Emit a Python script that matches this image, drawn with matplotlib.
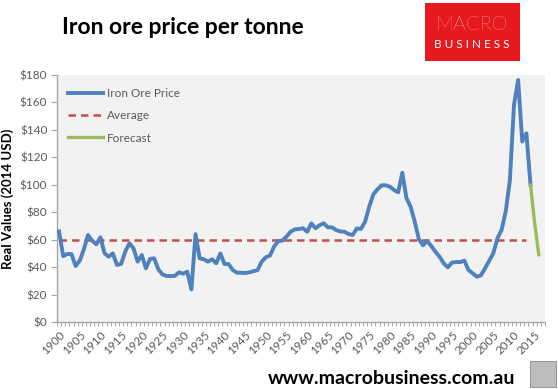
import matplotlib
matplotlib.use("Agg")
import matplotlib.pyplot as plt
from matplotlib.patches import Rectangle
import numpy as np

# ---------------------------------------------------------------------------
# Data (real USD 2014 per tonne)
# ---------------------------------------------------------------------------
price_years = list(range(1900, 2015))
price = [
    66, 48, 49.6, 49.5, 40.8, 44.7, 53, 63.4, 59.3, 56.6,          # 1900s
    61.7, 50, 47.6, 50, 41.6, 42.3, 51.3, 57.3, 53.7, 44,          # 1910s
    48.8, 39.1, 46, 46.4, 38.4, 34.7, 33.5, 33.5, 33.6, 36.2,      # 1920s
    35.2, 36.7, 23.8, 64, 46.4, 45.7, 44, 45.7, 42.8, 50,          # 1930s
    42.2, 42.2, 37.9, 35.9, 35.9, 35.7, 36.2, 37, 37.8, 44,        # 1940s
    47.2, 48.4, 55, 59, 59.3, 62.2, 65.8, 67.5, 67.8, 68.3,        # 1950s
    65.8, 71.9, 68.3, 70.5, 71.9, 69, 69, 67, 66, 65.8,            # 1960s
    64.1, 63.4, 68.2, 67.8, 73.1, 84.1, 93, 96.7, 99.6, 99.6,      # 1970s
    98.6, 96.2, 94.5, 108.8, 90.2, 84.1, 73.1, 60.3, 55.9, 59,     # 1980s
    55.4, 51.2, 47.6, 42.8, 39.8, 43.3, 43.7, 43.7, 44.7, 37.9,    # 1990s
    35.5, 33, 34, 39.1, 44.5, 50.1, 61, 67.1, 80.5, 103,           # 2000s
    158.2, 176.4, 131.5, 137.5, 99.8,                              # 2010-2014
]

forecast_years = [2014, 2015, 2016]
forecast = [99.8, 72, 49]

avg_years = list(range(1900, 2014))
avg_value = 60

year_labels = list(range(1900, 2016, 5))
y_ticks = list(range(0, 181, 20))

BLUE = "#4F81BD"
RED = "#C0504D"
GREEN = "#9BBB59"
GREY_TXT = "#595959"
AXIS_GREY = "#A6A6A6"

plt.rcParams["font.family"] = ["Lato", "DejaVu Sans"]

# ---------------------------------------------------------------------------
# Figure
# ---------------------------------------------------------------------------
W, H = 558, 389
fig = plt.figure(figsize=(W / 100, H / 100), dpi=100)
fig.patch.set_facecolor("white")

ax = fig.add_axes([57 / W, 1 - 322 / H, 488 / W, 247 / H])
ax.set_facecolor("#F2F2F2")

ax.plot(price_years, price, color=BLUE, lw=2.8, solid_joinstyle="round",
        label="Iron Ore Price", zorder=3)
ax.plot(avg_years, [avg_value] * len(avg_years), color=RED, lw=1.8,
        dashes=(3, 2), label="Average", zorder=2)
ax.plot(forecast_years, forecast, color=GREEN, lw=2.4, label="Forecast",
        zorder=4)

ax.set_xlim(1899.5, 2017.5)
ax.set_ylim(0, 180)

ax.set_yticks(y_ticks)
ax.set_yticklabels([f"${v}" for v in y_ticks])
ax.set_xticks(year_labels)
ax.set_xticklabels([str(y) for y in year_labels], rotation=45, ha="right",
                   va="top", rotation_mode="anchor")
ax.set_xticks(np.arange(1899.5, 2018, 1), minor=True)

ax.tick_params(axis="y", length=4, width=0.8, color=AXIS_GREY,
               labelsize=8.5, labelcolor=GREY_TXT, pad=3)
ax.tick_params(axis="x", which="major", length=0, labelsize=8.5,
               labelcolor=GREY_TXT, pad=5)
ax.tick_params(axis="x", which="minor", length=3, width=0.7,
               color=AXIS_GREY)

for side in ("top", "right"):
    ax.spines[side].set_visible(False)
for side in ("left", "bottom"):
    ax.spines[side].set_color(AXIS_GREY)
    ax.spines[side].set_linewidth(1.0)

ax.set_ylabel("Real Values (2014 USD)", fontsize=9.5, fontweight="bold",
              color="black", labelpad=4)

leg = ax.legend(loc="upper left", frameon=False, fontsize=8.5,
                handlelength=3.0, handletextpad=0.3, labelspacing=0.95,
                bbox_to_anchor=(0.0, 0.99))
for t in leg.get_texts():
    t.set_color(GREY_TXT)

# Title
fig.text(62 / W, 1 - 28 / H, "Iron ore price per tonne", fontsize=16.5,
         fontweight="bold", ha="left", va="center")

# Logo box
fig.patches.append(Rectangle((425 / W, 1 - 61 / H), 95 / W, 58 / H,
                             transform=fig.transFigure, facecolor="#E5191E",
                             edgecolor="none"))
fig.text(472 / W, 1 - 25 / H, "MACRO", fontsize=14.5, color="white",
         ha="center", va="center", fontweight="light")
fig.text(472 / W, 1 - 45 / H, "B U S I N E S S", fontsize=8.5, color="white",
         ha="center", va="center")

# Footer
fig.text(515 / W, 1 - 378 / H, "www.macrobusiness.com.au", fontsize=14,
         fontweight="bold", ha="right", va="center")
fig.patches.append(Rectangle((530 / W, 1 - 387 / H), 26 / W, 26 / H,
                             transform=fig.transFigure, facecolor="#BDBDBD",
                             edgecolor="#888888", linewidth=0.6))

fig.savefig("out.png", dpi=100, facecolor="white")
